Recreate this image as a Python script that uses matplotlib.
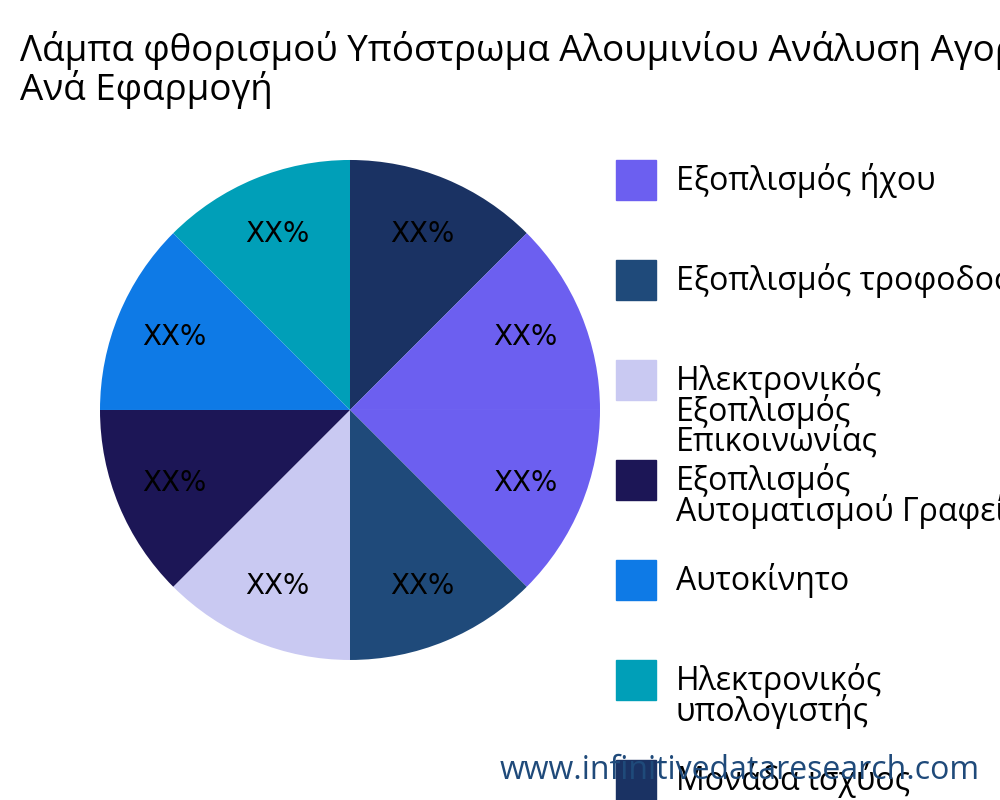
import matplotlib
matplotlib.use("Agg")
import matplotlib.pyplot as plt
from matplotlib.patches import Rectangle

plt.rcParams['font.family'] = ['Open Sans', 'DejaVu Sans']

categories = ["Εξοπλισμός ήχου", "Εξοπλισμός τροφοδοσίας", "Ηλεκτρονικός\nΕξοπλισμός\nΕπικοινωνίας",
              "Εξοπλισμός\nΑυτοματισμού Γραφείου", "Αυτοκίνητο", "Ηλεκτρονικός\nυπολογιστής",
              "Μονάδα ισχύος", "Άλλα"]
values = [12.5, 12.5, 12.5, 12.5, 12.5, 12.5, 12.5, 12.5]
colors = ["#6c5ff0", "#1f4a7a", "#c9c9f2", "#1c1656", "#0e7ae6", "#009fb8", "#1a3263", "#6c5ff0"]
title = "Λάμπα φθορισμού Υπόστρωμα Αλουμινίου Ανάλυση Αγοράς\nΑνά Εφαρμογή"

fig = plt.figure(figsize=(10, 8), dpi=100)
ax = fig.add_axes([0.0375, 0.0969, 0.625, 0.78125])
ax.pie(values, colors=colors, startangle=0, counterclock=False,
       autopct=lambda p: "XX%", pctdistance=0.76,
       textprops=dict(fontsize=20, color="black", family="DejaVu Sans"))
ax.set_aspect('equal')

fig.text(0.02, 0.913, title, fontsize=26.5, va='center', ha='left', linespacing=1.0)

for i, (lab, c) in enumerate(zip(categories, colors)):
    ytop = 0.8 - i * 0.125
    fig.patches.append(Rectangle((0.616, ytop - 0.05), 0.04, 0.05, color=c,
                                 transform=fig.transFigure, figure=fig))
    fig.text(0.676, ytop - 0.004, lab, fontsize=23, va='top', ha='left', linespacing=0.85)

fig.text(0.98, 0.037, "www.infinitivedataresearch.com", fontsize=23, color="#1f4a7a",
         ha='right', va='center')
fig.savefig("out.png")
